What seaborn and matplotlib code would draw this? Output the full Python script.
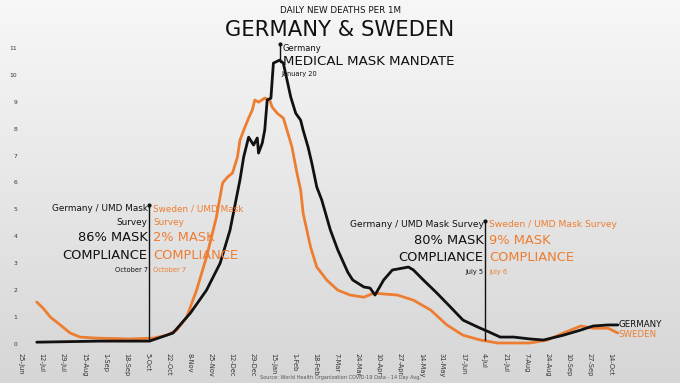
import numpy as np
import pandas as pd
import matplotlib
matplotlib.use("Agg")
import matplotlib.pyplot as plt
import seaborn as sns

# Daily new deaths per 1M, 14 day avg
germany_dates = [
    "2020-07-08", "2020-08-28", "2020-10-07", "2020-10-26", "2020-11-09", "2020-11-22",
    "2020-12-03", "2020-12-11", "2020-12-19", "2020-12-22", "2020-12-26", "2020-12-30",
    "2021-01-02", "2021-01-03", "2021-01-06", "2021-01-08", "2021-01-10", "2021-01-13",
    "2021-01-15", "2021-01-20", "2021-01-23", "2021-01-26", "2021-01-29", "2021-02-02",
    "2021-02-06", "2021-02-08", "2021-02-12", "2021-02-15", "2021-02-19", "2021-02-23",
    "2021-03-02", "2021-03-08", "2021-03-16", "2021-03-20", "2021-03-29", "2021-04-03",
    "2021-04-07", "2021-04-14", "2021-04-21", "2021-05-04", "2021-05-08", "2021-05-16",
    "2021-05-27", "2021-06-07", "2021-06-17", "2021-06-29", "2021-07-08", "2021-07-17",
    "2021-07-28", "2021-08-10", "2021-08-21", "2021-09-06", "2021-09-20", "2021-09-30",
    "2021-10-12", "2021-10-20",
]
germany_values = [
    0.07, 0.11, 0.11, 0.41, 1.15, 2.0,
    3.0, 4.23, 6.09, 6.94, 7.68, 7.39,
    7.65, 7.09, 7.46, 7.94, 9.06, 9.13,
    10.43, 10.54, 10.43, 9.8, 9.17, 8.57,
    8.31, 7.94, 7.31, 6.72, 5.83, 5.35,
    4.23, 3.49, 2.67, 2.38, 2.12, 2.08,
    1.82, 2.38, 2.75, 2.86, 2.75, 2.38,
    1.89, 1.37, 0.89, 0.63, 0.45, 0.26,
    0.26, 0.19, 0.15, 0.33, 0.52, 0.67,
    0.71, 0.71,
]

sweden_dates = [
    "2020-07-08", "2020-07-13", "2020-07-19", "2020-07-27", "2020-08-04", "2020-08-12",
    "2020-08-26", "2020-09-21", "2020-10-10", "2020-10-21", "2020-10-29", "2020-11-06",
    "2020-11-14", "2020-11-22", "2020-11-30", "2020-12-05", "2020-12-09", "2020-12-13",
    "2020-12-17", "2020-12-19", "2020-12-23", "2020-12-26", "2020-12-29", "2020-12-31",
    "2021-01-03", "2021-01-08", "2021-01-12", "2021-01-14", "2021-01-18", "2021-01-23",
    "2021-01-26", "2021-01-30", "2021-02-03", "2021-02-06", "2021-02-08", "2021-02-14",
    "2021-02-19", "2021-02-27", "2021-03-08", "2021-03-18", "2021-03-29", "2021-04-06",
    "2021-04-25", "2021-05-08", "2021-05-22", "2021-06-04", "2021-06-17", "2021-07-01",
    "2021-07-15", "2021-08-10", "2021-08-24", "2021-09-06", "2021-09-20", "2021-09-30",
    "2021-10-12", "2021-10-20",
]
sweden_values = [
    1.56, 1.34, 1.0, 0.71, 0.41, 0.26,
    0.22, 0.19, 0.22, 0.33, 0.52, 1.0,
    2.0, 3.23, 4.71, 5.98, 6.2, 6.35,
    6.94, 7.57, 8.05, 8.39, 8.69, 9.06,
    8.98, 9.13, 9.06, 8.8, 8.57, 8.39,
    7.94, 7.31, 6.35, 5.72, 4.86, 3.6,
    2.86, 2.38, 2.0, 1.82, 1.74, 1.89,
    1.82, 1.63, 1.26, 0.71, 0.33, 0.15,
    0.04, 0.04, 0.15, 0.41, 0.67, 0.59,
    0.59, 0.41,
]

tick_start = "2020-06-25"
n_ticks = 29
tick_step_days = 17

BLACK = "#111111"
ORANGE = "#ED7D31"

germany = pd.DataFrame({"date": pd.to_datetime(germany_dates), "deaths": germany_values})
sweden = pd.DataFrame({"date": pd.to_datetime(sweden_dates), "deaths": sweden_values})

sns.set_style("white")
plt.rcParams["font.family"] = ["DejaVu Sans"]

fig = plt.figure(figsize=(6.8, 3.83), dpi=100)

# gradient background
bg = fig.add_axes([0, 0, 1, 1], zorder=-2)
grad = np.linspace(0, 1, 256).reshape(-1, 1)
bg.imshow(grad, aspect="auto", cmap=matplotlib.colors.LinearSegmentedColormap.from_list(
    "bg", ["#f7f7f7", "#d6d6d6"]), extent=[0, 1, 0, 1])
bg.axis("off")

ax = fig.add_axes([20 / 680, 33 / 383, 640 / 680, 330 / 383])
ax.patch.set_alpha(0)

sns.lineplot(data=germany, x="date", y="deaths", ax=ax, color=BLACK, linewidth=2.0, zorder=3)
sns.lineplot(data=sweden, x="date", y="deaths", ax=ax, color=ORANGE, linewidth=2.0, zorder=2)

t0 = pd.Timestamp(tick_start)
ax.set_xlim(t0 - pd.Timedelta(days=0.5), t0 + pd.Timedelta(days=516))
ax.set_ylim(-0.22, 12.03)

ticks = pd.date_range(t0, periods=n_ticks, freq=f"{tick_step_days}D")
ax.set_xticks(ticks)
ax.set_xticklabels([f"{d.day}-{d.strftime('%b')}" for d in ticks], rotation=270,
                   fontsize=4.8, color="#333333")
ax.set_yticks(range(0, 12))
ax.set_yticklabels([str(i) for i in range(0, 12)], fontsize=4.3, color="#333333")
ax.tick_params(axis="both", length=0, pad=2)
ax.set_xlabel("")
ax.set_ylabel("")
for s in ax.spines.values():
    s.set_visible(False)


def vline(date, top, bottom):
    d = pd.Timestamp(date)
    ax.plot([d, d], [bottom, top], color=BLACK, lw=1, zorder=4)
    ax.plot([d], [top], marker="o", ms=2, color=BLACK, zorder=4)


def txt(date, days_off, y, s, color, size, ha):
    d = pd.Timestamp(date) + pd.Timedelta(days=days_off)
    ax.text(d, y, s, color=color, fontsize=size, ha=ha, va="center", zorder=5)


# mandate annotation
vline("2021-01-20", 11.14, 10.47)
txt("2021-01-20", 2.5, 10.99, "Germany", BLACK, 6.0, "left")
txt("2021-01-20", 2.5, 10.48, "MEDICAL MASK MANDATE", BLACK, 9.6, "left")
txt("2021-01-20", 1.5, 10.03, "January 20", BLACK, 4.8, "left")

# October survey
vline("2020-10-07", 5.16, 0.15)
txt("2020-10-07", -1.5, 5.02, "Germany / UMD Mask", BLACK, 6.4, "right")
txt("2020-10-07", -1.5, 4.50, "Survey", BLACK, 6.4, "right")
txt("2020-10-07", -1.5, 3.95, "86% MASK", BLACK, 9.4, "right")
txt("2020-10-07", -1.5, 3.30, "COMPLIANCE", BLACK, 9.4, "right")
txt("2020-10-07", -1.5, 2.75, "October 7", BLACK, 4.8, "right")
txt("2020-10-07", 3.0, 5.02, "Sweden / UMD Mask", ORANGE, 6.4, "left")
txt("2020-10-07", 3.0, 4.50, "Survey", ORANGE, 6.4, "left")
txt("2020-10-07", 3.0, 3.95, "2% MASK", ORANGE, 9.4, "left")
txt("2020-10-07", 3.0, 3.30, "COMPLIANCE", ORANGE, 9.4, "left")
txt("2020-10-07", 3.0, 2.75, "October 7", ORANGE, 4.8, "left")

# July survey
vline("2021-07-05", 4.58, 0.15)
txt("2021-07-05", -1.5, 4.45, "Germany / UMD Mask Survey", BLACK, 6.6, "right")
txt("2021-07-05", -1.5, 3.86, "80% MASK", BLACK, 9.4, "right")
txt("2021-07-05", -1.5, 3.21, "COMPLIANCE", BLACK, 9.4, "right")
txt("2021-07-05", -1.5, 2.68, "July 5", BLACK, 4.8, "right")
txt("2021-07-05", 3.0, 4.45, "Sweden / UMD Mask Survey", ORANGE, 6.6, "left")
txt("2021-07-05", 3.0, 3.86, "9% MASK", ORANGE, 9.4, "left")
txt("2021-07-05", 3.0, 3.21, "COMPLIANCE", ORANGE, 9.4, "left")
txt("2021-07-05", 3.0, 2.68, "July 6", ORANGE, 4.8, "left")

# end labels
txt("2021-10-20", 0.5, 0.71, "GERMANY", BLACK, 6.2, "left")
txt("2021-10-20", 0.5, 0.37, "SWEDEN", ORANGE, 6.2, "left")

# titles
fig.text(0.5, 1 - 10.3 / 383, "DAILY NEW DEATHS PER 1M", ha="center", va="center",
         fontsize=6.3, color=BLACK)
fig.text(0.5, 1 - 30.3 / 383, "GERMANY & SWEDEN", ha="center", va="center",
         fontsize=15.2, color=BLACK)
fig.text(0.5, 1 - 378 / 383, "Source: World Health Organization COVID-19 Data - 14 Day Avg.",
         ha="center", va="center", fontsize=3.6, color="#555555")

fig.savefig("out.png", dpi=100)
